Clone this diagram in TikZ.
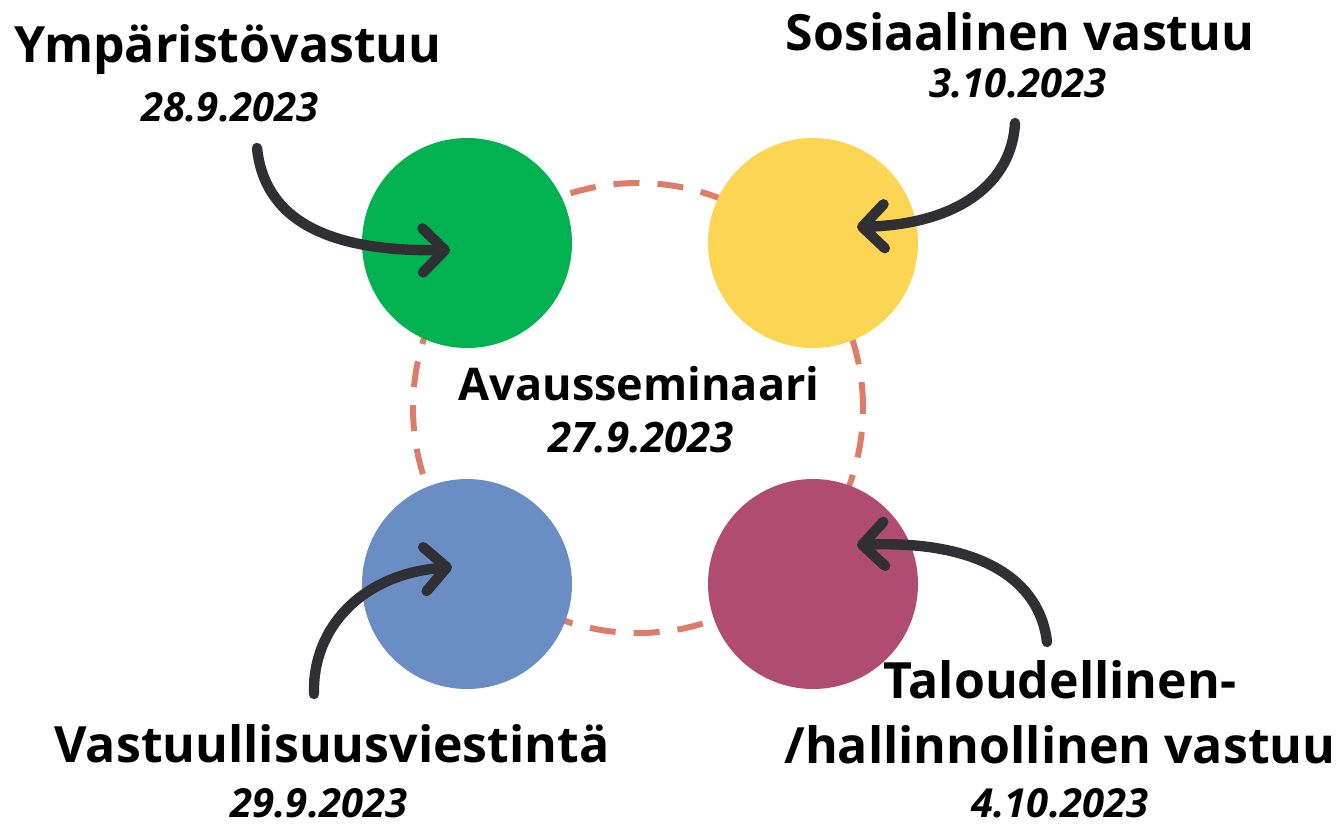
\documentclass[tikz,border=0pt]{standalone}
\usepackage{fontspec}
\setmainfont{Open Sans}
\usetikzlibrary{arrows.meta}
\definecolor{ympcol}{RGB}{2,178,80}
\definecolor{soscol}{RGB}{252,214,82}
\definecolor{viescol}{RGB}{106,142,196}
\definecolor{talcol}{RGB}{176,76,114}
\definecolor{ringcol}{RGB}{222,124,106}
\definecolor{arrcol}{RGB}{48,48,52}

\begin{document}
\begin{tikzpicture}[x=0.5pt, y=-0.5pt,
  ball/.style={circle, minimum size=105pt, inner sep=0pt},
  title/.style={font=\fontsize{25}{29}\selectfont\bfseries, inner sep=0pt},
  date/.style={font=\fontsize{20}{23}\selectfont\bfseries\itshape, inner sep=0pt},
  pointer/.style={draw=arrcol, line width=5.2pt, line cap=round,
    -{Straight Barb[length=11pt, width=22pt, round]}}]
  \useasboundingbox (0,0) rectangle (1342,826);
  \draw[ringcol, line width=3pt, dash pattern=on 13pt off 9pt] (638,408) circle (112.5pt);
  \node[ball, fill=ympcol] (ymp) at (467,243) {};
  \node[ball, fill=soscol] (sos) at (813,243) {};
  \node[ball, fill=viescol] (vies) at (467,584) {};
  \node[ball, fill=talcol] (tal) at (813,584) {};
  \node[title] (ympT) at (228,50) {Ympäristövastuu};
  \node[date] (ympD) at (230,107) {28.9.2023};
  \node[title] (sosT) at (1020,32) {Sosiaalinen vastuu};
  \node[date] (sosD) at (1018,83) {3.10.2023};
  \node[title, font=\fontsize{22.5}{26}\selectfont\bfseries] (avT) at (639,384) {Avausseminaari};
  \node[date, font=\fontsize{21}{24}\selectfont\bfseries\itshape] (avD) at (641,438) {27.9.2023};
  \node[title] (viesT) at (332,744) {Vastuullisuusviestintä};
  \node[date] (viesD) at (319,803) {29.9.2023};
  \node[title] (talT) at (1060,680) {Taloudellinen-};
  \node[title] (talU) at (1060,745) {/hallinnollinen vastuu};
  \node[date] (talD) at (1060,803) {4.10.2023};
  % arrows into the balls
  \coordinate (ympS) at (257,148);  \coordinate (ympE) at (450,250);
  \coordinate (sosS) at (1015,123); \coordinate (sosE) at (857,227);
  \coordinate (viesS) at (314,694); \coordinate (viesE) at (452,567);
  \coordinate (talS) at (1047,642); \coordinate (talE) at (857,545);
  \draw[pointer] (ympS) .. controls (264,215) and (320,252) .. (ympE);
  \draw[pointer] (sosS) .. controls (1012,182) and (960,224) .. (sosE);
  \draw[pointer] (viesS) .. controls (312,628) and (362,574) .. (viesE);
  \draw[pointer] (talS) .. controls (1040,580) and (980,540) .. (talE);
\end{tikzpicture}
\end{document}
